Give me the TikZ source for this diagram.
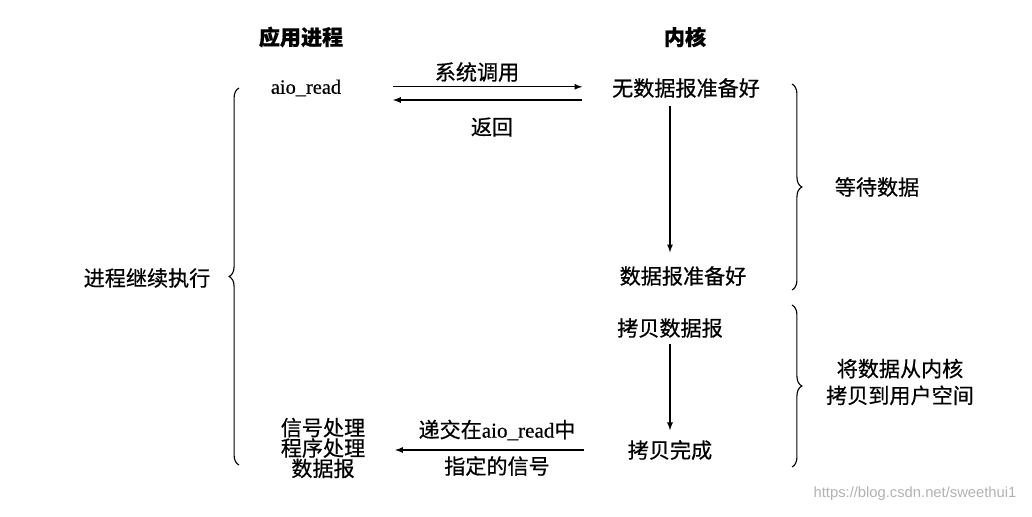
\documentclass[tikz,border=0pt]{standalone}
\usepackage{fontspec}
\usepackage{tikz}
\usetikzlibrary{arrows,calc}
\usetikzlibrary{decorations.pathreplacing}
\newfontfamily\cjk[FakeBold=0.6]{Noto Sans CJK SC}
\newfontfamily\lat[FakeBold=0.4]{Liberation Serif}
\newfontfamily\wmfont{Liberation Sans}

\tikzset{
  txt/.style={font=\cjk\fontsize{15}{15}\selectfont, inner sep=4pt},
  ttl/.style={font=\cjk\bfseries\fontsize{15}{15}\selectfont},
  arr/.style={-latex, line width=0.9pt},
  brc/.style={decorate, decoration={brace, amplitude=7pt}, line width=0.8pt}
}

\begin{document}
\begin{tikzpicture}[x=0.025cm, y=-0.025cm]
	\useasboundingbox (0,0) rectangle (1032,516);

	% titles
	\node[ttl] (app) at (301, 37) {应用进程};
	\node[ttl] (kern) at (685, 37) {内核};

	% first row
	\node[font=\lat\fontsize{14.5}{14.5}\selectfont, inner sep=4pt] (read) at (306, 88) {aio\_read};
	\node[txt] (nodata) at (686, 88) {无数据报准备好};
	\node[txt] (call) at (477, 72) {系统调用};
	\node[txt] (ret) at (492, 127) {返回};

	% kernel column
	\node[txt] (ready) at (683, 276) {数据报准备好};
	\node[txt] (copy) at (670, 328) {拷贝数据报};
	\node[txt] (done) at (670, 450) {拷贝完成};

	% last row
	\node[txt, align=center, font=\cjk\fontsize{15}{14.5}\selectfont] (sig) at (323, 448) {信号处理\\程序处理\\数据报};
	\node[txt] (give) at (497, 430) {递交在{\lat aio\_read}中};
	\node[txt] (spec) at (497, 466) {指定的信号};

	% arrows
	\draw[arr, shorten <=1.15cm, shorten >=0.6cm] ([yshift=0.03cm]read.east) -- ([yshift=0.03cm]nodata.west);
	\draw[arr, shorten <=0.6cm, shorten >=1.15cm] ([yshift=-0.3cm]nodata.west) -- ([yshift=-0.3cm]read.east);
	\draw[arr, shorten <=0.05cm, shorten >=0.2cm] (nodata.south -| copy.north) -- (ready.north -| copy.north);
	\draw[arr, shorten >=0.1cm] (copy.south) -- (done.north);
	\draw[arr, shorten <=0.95cm, shorten >=0.6cm] (done.west) -- (sig.east |- done.west);

	% braces
	\coordinate (lb1) at (239, 465);
	\coordinate (lb2) at (239, 88);
	\draw[brc] (lb1) -- (lb2);
	\node[txt] (cont) at (147, 278) {进程继续执行};

	\coordinate (rb1) at (792, 84);
	\coordinate (rb2) at (792, 290);
	\draw[brc] (rb1) -- (rb2);
	\node[txt] (wait) at (877, 187) {等待数据};

	\coordinate (rb3) at (792, 305);
	\coordinate (rb4) at (792, 467);
	\draw[brc] (rb3) -- (rb4);
	\node[txt, align=center, font=\cjk\fontsize{15}{19}\selectfont] (move) at (900, 382) {将数据从内核\\拷贝到用户空间};

	% watermark
	\node[font=\wmfont\fontsize{10.5}{10.5}\selectfont, text=black!30] (wm) at (915, 494) {https://blog.csdn.net/sweethui1};
\end{tikzpicture}
\end{document}
